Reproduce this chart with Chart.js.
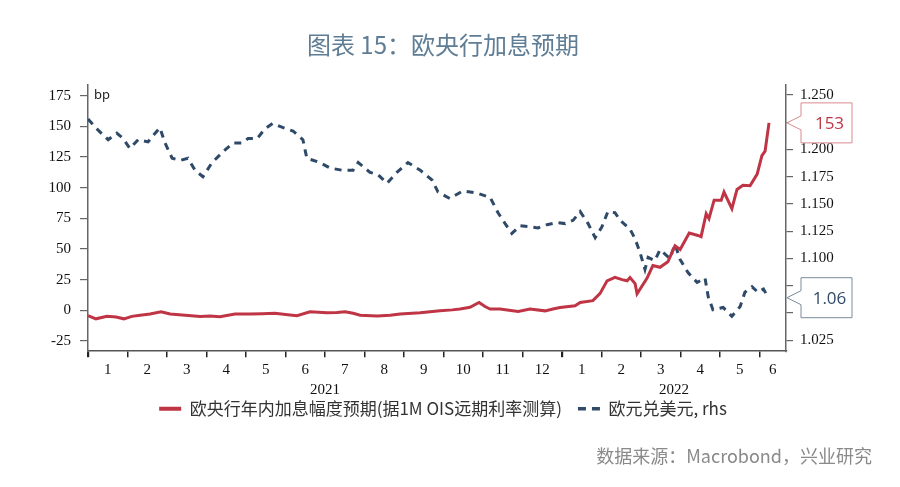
<!DOCTYPE html>
<html><head><meta charset="utf-8">
<script src="https://cdn.jsdelivr.net/npm/chart.js@4.4.1/dist/chart.umd.min.js"></script>
<style>html,body{margin:0;padding:0;background:#fff;}#wrap{width:900px;height:487px;position:relative;}</style>
</head><body><div id="wrap"><canvas id="c"></canvas></div>
<script>
// ---- text ----
const titleText = '图表 15：欧央行加息预期';
const sourceText = '数据来源：Macrobond，兴业研究';
const redLabel = '欧央行年内加息幅度预期(据1M OIS远期利率测算)';
const usdLabel = '欧元兑美元, rhs';
const unitLabel = 'bp';

// ---- axis labels ----
const monthLabels = ['1','2','3','4','5','6','7','8','9','10','11','12','1','2','3','4','5','6'];
const yearLabels = ['2021','2022'];
const leftTicks = [-25, 0, 25, 50, 75, 100, 125, 150, 175];
const rightTicks = [1.025, 1.05, 1.075, 1.1, 1.125, 1.15, 1.175, 1.2, 1.225, 1.25];

// ---- series (x = months since 2021-01-01) ----
const redMonths = [0.00,0.20,0.48,0.71,0.91,1.11,1.32,1.57,1.85,2.08,2.46,2.84,3.09,3.34,3.72,4.10,4.41,4.73,5.06,5.29,5.62,6.05,6.30,6.51,6.71,6.89,7.32,7.65,7.90,8.41,8.91,9.22,9.42,9.67,9.90,10.05,10.18,10.43,10.66,10.89,11.19,11.57,11.77,11.95,12.33,12.46,12.78,12.96,13.14,13.34,13.52,13.65,13.72,13.85,13.90,14.15,14.30,14.48,14.68,14.86,14.99,15.22,15.44,15.52,15.65,15.72,15.85,16.03,16.10,16.30,16.43,16.58,16.76,16.94,17.06,17.14,17.24];
const redValues = [-4.5,-7,-5,-5.5,-7,-5,-4,-3,-1.2,-3,-4,-5,-4.6,-5.3,-3,-3,-2.8,-2.5,-3.6,-4.5,-1.2,-2,-1.8,-1.2,-2.5,-4,-4.7,-4,-3,-2,-0.4,0.3,1,2.4,6.4,3,1,1,0,-1,1,-0.5,1,2.3,3.7,6.4,7.8,13.5,24,26.8,25,24,26.6,21.7,13.5,26,36.4,35,39.5,52.5,49.5,63,61,60,78.7,74.7,89.8,89.8,96.4,82.8,98.5,101.9,101.5,111,126,129.7,152.8];

const usdMonths = [0.00,0.25,0.51,0.73,0.89,1.06,1.27,1.52,1.70,1.82,1.95,2.13,2.33,2.53,2.71,2.91,3.14,3.42,3.67,3.90,4.05,4.28,4.48,4.68,4.94,5.19,5.44,5.54,5.87,6.13,6.43,6.71,6.84,7.14,7.34,7.57,7.82,8.10,8.41,8.71,8.86,9.16,9.49,9.85,10.18,10.38,10.56,10.73,10.94,11.19,11.39,11.62,11.87,12.08,12.28,12.46,12.66,12.84,13.01,13.16,13.34,13.47,13.72,13.85,13.97,14.10,14.18,14.35,14.48,14.73,14.86,14.99,15.19,15.42,15.62,15.70,15.82,16.08,16.30,16.51,16.63,16.81,16.96,17.10,17.22];
const usdValues = [1.228,1.218,1.209,1.215,1.210,1.201,1.209,1.207,1.215,1.220,1.206,1.192,1.190,1.192,1.181,1.175,1.188,1.198,1.206,1.206,1.210,1.210,1.219,1.224,1.220,1.217,1.209,1.192,1.188,1.183,1.181,1.181,1.188,1.179,1.177,1.169,1.179,1.188,1.181,1.172,1.161,1.155,1.162,1.160,1.156,1.142,1.132,1.123,1.130,1.129,1.128,1.131,1.133,1.132,1.135,1.143,1.132,1.119,1.129,1.143,1.142,1.135,1.127,1.118,1.106,1.090,1.101,1.098,1.108,1.100,1.113,1.099,1.087,1.078,1.082,1.065,1.053,1.055,1.047,1.056,1.069,1.074,1.069,1.072,1.064];

// ---- build x ticks: month boundaries (marks), month centres (labels), year labels ----
const X_MAX = 17.67;
const xTicks = [];
for (let i = 0; i < monthLabels.length; i++) {
  xTicks.push({value: i, label: i === 6 ? ['', yearLabels[0]] : '', mark: true});
  const centre = i < monthLabels.length - 1 ? i + 0.5 : (i + X_MAX) / 2;
  xTicks.push({value: centre, label: monthLabels[i], mark: false});
}
xTicks.push({value: (12 + X_MAX) / 2, label: ['', yearLabels[1]], mark: false});
xTicks.sort((a, b) => a.value - b.value);

const RED = '#bf3545';
const BLUE = '#2f4a68';
const serif = "'Liberation Serif', 'Times New Roman', serif";
const cjk = "'Noto Sans CJK SC', 'Noto Sans', sans-serif";

const extrasPlugin = {
  id: 'extras',
  afterLayout(chart) {
    // let the two-line (month / year) labels draw below the compact axis box
    const s = chart.scales.x;
    s.bottom = s.top + 55;
  },
  afterDraw(chart) {
    const {ctx, chartArea, scales} = chart;
    ctx.save();
    // unit label
    ctx.font = "13px 'Noto Sans', sans-serif";
    ctx.fillStyle = '#222';
    ctx.textBaseline = 'middle';
    ctx.textAlign = 'left';
    ctx.fillText(unitLabel, chartArea.left + 6, scales.yL.getPixelForValue(leftTicks[leftTicks.length - 1]));
    // last-value callouts
    const lastRed = redValues[redValues.length - 1];
    const lastUsd = usdValues[usdValues.length - 1];
    const items = [
      {y: scales.yL.getPixelForValue(lastRed), text: String(Math.round(lastRed)), color: RED, border: '#d98a8f'},
      {y: scales.yR.getPixelForValue(lastUsd), text: lastUsd.toFixed(2), color: BLUE, border: '#7a8a9c'}
    ];
    items.forEach(it => {
      const tipX = chartArea.right + 1;
      const bx = chartArea.right + 15, bw = 51, bh = 40;
      const top = it.y - bh / 2, bot = it.y + bh / 2;
      ctx.beginPath();
      ctx.moveTo(tipX, it.y);
      ctx.lineTo(bx, it.y - 7);
      ctx.lineTo(bx, top);
      ctx.lineTo(bx + bw, top);
      ctx.lineTo(bx + bw, bot);
      ctx.lineTo(bx, bot);
      ctx.lineTo(bx, it.y + 7);
      ctx.closePath();
      ctx.fillStyle = '#fff';
      ctx.fill();
      ctx.lineWidth = 1;
      ctx.strokeStyle = it.border;
      ctx.stroke();
      ctx.font = "17px 'Open Sans', 'Noto Sans', sans-serif";
      ctx.fillStyle = it.color;
      ctx.textAlign = 'center';
      ctx.textBaseline = 'middle';
      ctx.fillText(it.text, bx + bw / 2 + 3, it.y + 1);
    });
    ctx.restore();
  }
};

new Chart(document.getElementById('c'), {
  type: 'line',
  data: {
    datasets: [
      {
        label: redLabel,
        data: redMonths.map((m, i) => ({x: m, y: redValues[i]})),
        yAxisID: 'yL',
        borderColor: RED,
        backgroundColor: RED,
        borderWidth: 3,
        pointRadius: 0,
        pointStyle: 'line',
        tension: 0
      },
      {
        label: usdLabel,
        data: usdMonths.map((m, i) => ({x: m, y: usdValues[i]})),
        yAxisID: 'yR',
        borderColor: BLUE,
        backgroundColor: BLUE,
        borderWidth: 3,
        borderDash: [7, 6],
        pointRadius: 0,
        pointStyle: 'line',
        tension: 0
      }
    ]
  },
  options: {
    responsive: true,
    maintainAspectRatio: false,
    animation: false,
    devicePixelRatio: 1,
    layout: {padding: {left: 14, right: 28, top: 0, bottom: 11}},
    plugins: {
      title: {
        display: true,
        text: titleText,
        color: '#5f7d95',
        font: {family: cjk, size: 24, weight: 'normal'},
        padding: {top: 30.6, bottom: 25.6}
      },
      subtitle: {
        display: true,
        text: sourceText,
        position: 'bottom',
        align: 'end',
        color: '#8a8a8a',
        font: {family: cjk, size: 18, weight: 'normal'},
        padding: {top: 18.2, bottom: 9}
      },
      legend: {
        position: 'bottom',
        labels: {
          font: {family: cjk, size: 17},
          color: '#333',
          usePointStyle: true,
          pointStyleWidth: 22,
          padding: 16,
          generateLabels: chart => {
            const items = Chart.defaults.plugins.legend.labels.generateLabels(chart);
            return items.map(item => {
              const ds = chart.data.datasets[item.datasetIndex];
              item.lineDash = ds.borderDash ? [8, 6] : [];
              item.lineWidth = ds.borderDash ? 3.5 : 4;
              item.strokeStyle = ds.borderColor;
              item.fillStyle = ds.borderColor;
              return item;
            });
          }
        }
      },
      tooltip: {enabled: false}
    },
    scales: {
      x: {
        type: 'linear',
        position: 'bottom',
        min: 0,
        max: X_MAX,
        afterBuildTicks: axis => { axis.ticks = xTicks.map(t => ({value: t.value})); },
        afterFit: scale => { scale.height = 33; },
        ticks: {
          autoSkip: false,
          maxRotation: 0,
          padding: 3,
          color: '#111',
          font: {family: serif, size: 15, lineHeight: 1.33},
          callback: (v, i) => xTicks[i] ? xTicks[i].label : ''
        },
        grid: {
          drawOnChartArea: false,
          drawTicks: true,
          tickLength: 6,
          color: c => (c.tick && xTicks[c.index] && xTicks[c.index].mark) ? '#222' : 'rgba(0,0,0,0)',
          lineWidth: c => (c.tick && (c.tick.value === 0 || c.tick.value === 12)) ? 2.2 : 1.5
        },
        border: {display: true, color: '#555', width: 1.5}
      },
      yL: {
        type: 'linear',
        position: 'left',
        min: -33.4,
        max: 183.7,
        afterBuildTicks: axis => { axis.ticks = leftTicks.map(v => ({value: v})); },
        afterFit: scale => { scale.width = 74; },
        ticks: {
          color: '#111',
          padding: 9,
          font: {family: serif, size: 15},
          callback: v => String(v)
        },
        grid: {drawOnChartArea: false, drawTicks: true, tickLength: 8, color: '#666', lineWidth: 1.2},
        border: {display: true, color: '#666', width: 1.5}
      },
      yR: {
        type: 'linear',
        position: 'right',
        min: 1.0149,
        max: 1.2592,
        afterBuildTicks: axis => { axis.ticks = rightTicks.map(v => ({value: v})); },
        afterFit: scale => { scale.width = 86; },
        ticks: {
          color: '#111',
          padding: 7,
          font: {family: serif, size: 15},
          callback: v => Number(v).toFixed(3)
        },
        grid: {drawOnChartArea: false, drawTicks: true, tickLength: 7, color: '#666', lineWidth: 1.2},
        border: {display: true, color: '#666', width: 1.5}
      }
    }
  },
  plugins: [extrasPlugin]
});
</script>
</body></html>
